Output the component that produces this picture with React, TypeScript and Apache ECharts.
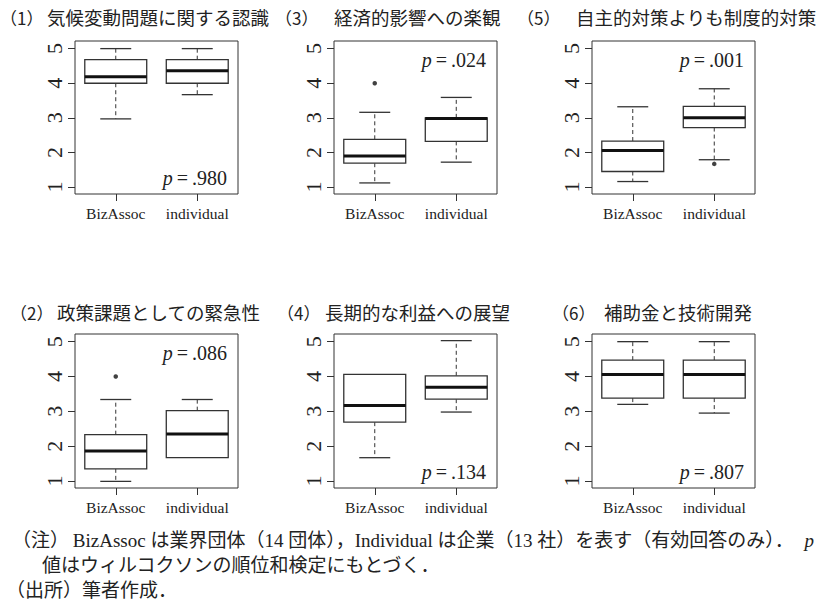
import React, { useEffect, useRef } from "react";
import * as echarts from "echarts";

// ---------- data ----------
const categories = ["BizAssoc", "individual"];
const panelNumbers = ["1", "2", "3", "4", "5", "6"];
const titles = [
  "気候変動問題に関する認識",
  "政策課題としての緊急性",
  "経済的影響への楽観",
  "長期的な利益への展望",
  "自主的対策よりも制度的対策",
  "補助金と技術開発",
];
// [lower whisker, Q1, median, Q3, upper whisker]
const bizAssocStats = [
  [2.97, 4.0, 4.19, 4.68, 5.0],
  [0.99, 1.35, 1.86, 2.33, 3.34],
  [1.12, 1.69, 1.9, 2.38, 3.16],
  [1.67, 2.69, 3.17, 4.06, 4.06],
  [1.16, 1.45, 2.06, 2.33, 3.32],
  [3.2, 3.38, 4.06, 4.47, 5.0],
];
const individualStats = [
  [3.67, 4.0, 4.36, 4.68, 5.0],
  [1.67, 1.67, 2.35, 3.02, 3.34],
  [1.72, 2.32, 2.98, 3.0, 3.59],
  [2.98, 3.35, 3.69, 4.02, 5.03],
  [1.79, 2.72, 3.0, 3.33, 3.84],
  [2.95, 3.38, 4.06, 4.47, 5.0],
];
const bizAssocOutliers = [[], [4.0], [4.0], [], [], []];
const individualOutliers = [[], [], [], [], [1.67], []];
const pValues = [".980", ".086", ".024", ".134", ".001", ".807"];
const pPlacement = ["bottom", "top", "top", "bottom", "top", "bottom"];
const yTicks = [1, 2, 3, 4, 5];
const noteLine1 = "（注）\u2009BizAssoc は業界団体（14 団体），Individual は企業（13 社）を表す（有効回答のみ）．";
const noteLine1End = "p";
const noteLine2 = "値はウィルコクソンの順位和検定にもとづく．";
const noteLine3 = "（出所）筆者作成．";

// ---------- layout ----------
const COL_LEFT = [75, 334, 592];
const PLOT_W = 163;
const ROW_TOP = [41, 334];
const ROW_H = [153, 154];
const TITLE_Y = [17, 312];
const TITLE_TEXT_X = [47, 57, 334, 325, 576, 604];
const TITLE_LABEL_X = [0, 10, 275, 277, 517, 552];

const SERIF = '"Liberation Serif", "Times New Roman", serif';
const CJK = '"Noto Sans CJK JP", sans-serif';
const MIXED = '"Liberation Serif", "Noto Sans CJK JP", serif';
const INK = "#222";
const LINE = "#333";

function panelPos(i: number) {
  const col = Math.floor(i / 2);
  const row = i % 2;
  return { col, row, left: COL_LEFT[col], top: ROW_TOP[row], height: ROW_H[row] };
}

function renderBox(params: any, api: any) {
  const xi = api.value(0);
  const pMin = api.coord([xi, api.value(1)]);
  const pQ1 = api.coord([xi, api.value(2)]);
  const pMed = api.coord([xi, api.value(3)]);
  const pQ3 = api.coord([xi, api.value(4)]);
  const pMax = api.coord([xi, api.value(5)]);
  const band = api.size([1, 0])[0];
  const w = band * 0.76;
  const cx = pMed[0];
  const children: any[] = [];
  const dash = { stroke: LINE, lineWidth: 1, lineDash: [4, 3] };
  const solid = { stroke: LINE, lineWidth: 1.3 };
  if (pMax[1] < pQ3[1] - 0.5) {
    children.push({ type: "line", shape: { x1: cx, y1: pQ3[1], x2: cx, y2: pMax[1] }, style: dash });
    children.push({ type: "line", shape: { x1: cx - w / 4, y1: pMax[1], x2: cx + w / 4, y2: pMax[1] }, style: solid });
  }
  if (pMin[1] > pQ1[1] + 0.5) {
    children.push({ type: "line", shape: { x1: cx, y1: pQ1[1], x2: cx, y2: pMin[1] }, style: dash });
    children.push({ type: "line", shape: { x1: cx - w / 4, y1: pMin[1], x2: cx + w / 4, y2: pMin[1] }, style: solid });
  }
  children.push({
    type: "rect",
    shape: { x: cx - w / 2, y: pQ3[1], width: w, height: pQ1[1] - pQ3[1] },
    style: { fill: "#fff", stroke: LINE, lineWidth: 1.3 },
  });
  children.push({
    type: "line",
    shape: { x1: cx - w / 2, y1: pMed[1], x2: cx + w / 2, y2: pMed[1] },
    style: { stroke: "#111", lineWidth: 3 },
  });
  return { type: "group", children };
}

export default function App() {
  const ref = useRef<HTMLDivElement>(null);
  useEffect(() => {
    if (!ref.current) return;
    const chart = echarts.init(ref.current, null, { renderer: "svg" });
    const grid: any[] = [];
    const xAxis: any[] = [];
    const yAxis: any[] = [];
    const series: any[] = [];
    const graphic: any[] = [];

    for (let i = 0; i < 6; i++) {
      const p = panelPos(i);
      grid.push({
        left: p.left,
        top: p.top,
        width: PLOT_W,
        height: p.height,
        show: true,
        borderColor: LINE,
        borderWidth: 1,
        backgroundColor: "transparent",
      });
      xAxis.push({
        type: "category",
        gridIndex: i,
        data: categories,
        boundaryGap: true,
        axisLine: { show: false },
        axisTick: { show: true, alignWithLabel: true, length: 7, lineStyle: { color: LINE } },
        axisLabel: { interval: 0, hideOverlap: false, fontFamily: SERIF, fontSize: 15.5, color: INK, margin: 11 },
        splitLine: { show: false },
      });
      yAxis.push({
        type: "value",
        gridIndex: i,
        min: 0.8,
        max: 5.22,
        axisLine: { show: false },
        axisTick: { show: true, length: 7, lineStyle: { color: LINE }, customValues: yTicks },
        axisLabel: {
          fontFamily: SERIF,
          fontSize: 22,
          color: INK,
          rotate: 90,
          margin: 10,
          customValues: yTicks,
        },
        splitLine: { show: false },
      });
      series.push({
        type: "custom",
        xAxisIndex: i,
        yAxisIndex: i,
        renderItem: renderBox,
        encode: { x: 0, y: [1, 2, 3, 4, 5] },
        data: [
          [0, ...bizAssocStats[i]],
          [1, ...individualStats[i]],
        ],
        z: 2,
      });
      const outs: any[] = [];
      bizAssocOutliers[i].forEach((v) => outs.push([0, v]));
      individualOutliers[i].forEach((v) => outs.push([1, v]));
      series.push({
        type: "scatter",
        xAxisIndex: i,
        yAxisIndex: i,
        data: outs,
        symbol: "circle",
        symbolSize: 4.5,
        itemStyle: { color: "#111" },
        z: 3,
      });

      // titles
      graphic.push({
        type: "text",
        x: TITLE_LABEL_X[i],
        y: TITLE_Y[p.row],
        style: {
          text: "（" + panelNumbers[i] + "）",
          fontFamily: CJK,
          fontSize: 17,
          fill: INK,
          align: "left",
          verticalAlign: "middle",
        },
      });
      graphic.push({
        type: "text",
        x: TITLE_TEXT_X[i],
        y: TITLE_Y[p.row],
        style: {
          text: titles[i],
          fontFamily: CJK,
          fontSize: 18.5,
          fill: INK,
          align: "left",
          verticalAlign: "middle",
        },
      });
      // p-value
      const py = pPlacement[i] === "top" ? p.top + 19 : p.top + p.height - 16;
      graphic.push({
        type: "text",
        x: p.left + PLOT_W - 11,
        y: py,
        style: {
          text: "{i|p}\u2009=\u2009" + pValues[i],
          fontFamily: SERIF,
          fontSize: 20,
          fill: INK,
          align: "right",
          verticalAlign: "middle",
          rich: { i: { fontFamily: SERIF, fontStyle: "italic", fontSize: 20, fill: INK } },
        },
      });
    }

    // notes
    const noteStyle = { fontFamily: MIXED, fontSize: 19, fill: INK, align: "left", verticalAlign: "middle" };
    graphic.push({ type: "text", x: 12, y: 540, style: { ...noteStyle, text: noteLine1 } });
    graphic.push({
      type: "text",
      x: 814,
      y: 540,
      style: { ...noteStyle, fontFamily: SERIF, fontStyle: "italic", fontSize: 19, align: "right", text: noteLine1End },
    });
    graphic.push({ type: "text", x: 42, y: 565, style: { ...noteStyle, text: noteLine2 } });
    graphic.push({ type: "text", x: 6, y: 590, style: { ...noteStyle, text: noteLine3 } });

    chart.setOption({
      animation: false,
      backgroundColor: "#fff",
      grid,
      xAxis,
      yAxis,
      series,
      graphic,
    });
    return () => chart.dispose();
  }, []);
  return (
    <div
      ref={ref}
      style={{ position: "fixed", left: 0, top: 0, width: 816, height: 607, background: "#fff" }}
    />
  );
}
